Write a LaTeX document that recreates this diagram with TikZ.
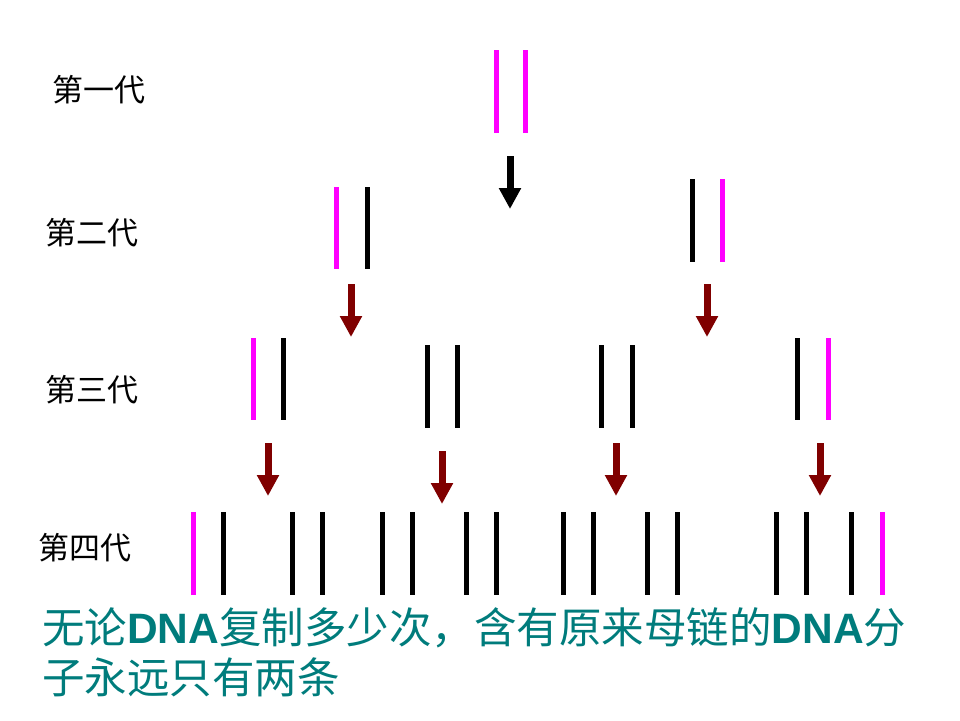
\documentclass[tikz,border=0pt]{standalone}
\usepackage{fontspec}
\usetikzlibrary{arrows.meta}
\newfontfamily\cjk{Noto Sans CJK SC}
\newfontfamily\latb{Liberation Sans}[BoldFont={Liberation Sans Bold}]
\definecolor{mag}{HTML}{FF00FF}
\definecolor{darkred}{HTML}{800000}
\definecolor{teal2}{HTML}{007C7C}
\tikzset{
  strandm/.style={line width=5pt, mag},
  strandk/.style={line width=5pt, black},
  genarrow/.style={line width=7pt, -{Triangle[width=21pt,length=21pt]}},
  genlabel/.style={anchor=west, inner sep=0pt, font=\cjk\fontsize{31}{31}\selectfont},
}
\begin{document}
\begin{tikzpicture}[x=1pt,y=-1pt]
\useasboundingbox (0,0) rectangle (960,720);
% labels
\node[genlabel] (g1) at (52,90) {第一代};
\node[genlabel] (g2) at (45,233) {第二代};
\node[genlabel] (g3) at (45,390) {第三代};
\node[genlabel] (g4) at (38,548) {第四代};
% generation 1
\draw[strandm] (496,50) -- (496,133);
\draw[strandm] (525,50) -- (525,133);
% generation 2
\draw[strandm] (336,187) -- (336,269);
\draw[strandk] (367,187) -- (367,269);
\draw[strandk] (692,179) -- (692,262);
\draw[strandm] (722,179) -- (722,262);
% generation 3
\draw[strandm] (253,338) -- (253,420);
\draw[strandk] (283,338) -- (283,420);
\draw[strandk] (427,345) -- (427,428);
\draw[strandk] (457,345) -- (457,428);
\draw[strandk] (601,345) -- (601,428);
\draw[strandk] (632,345) -- (632,428);
\draw[strandk] (797,338) -- (797,420);
\draw[strandm] (828,338) -- (828,420);
% generation 4
\draw[strandm] (193,512) -- (193,595);
\foreach \x in {223,292,322,382,412,466,496,563,593,647,677,776,806,851}
  \draw[strandk] (\x,512) -- (\x,595);
\draw[strandm] (882,512) -- (882,595);
% arrows
\coordinate (a0s) at (510,156); \coordinate (a0e) at (510,209);
\draw[genarrow, black] (a0s) -- (a0e);
\coordinate (a1s) at (351,284); \coordinate (a1e) at (351,337);
\coordinate (a2s) at (707,284); \coordinate (a2e) at (707,337);
\coordinate (a3s) at (268,443); \coordinate (a3e) at (268,496);
\coordinate (a4s) at (442,451); \coordinate (a4e) at (442,504);
\coordinate (a5s) at (616,443); \coordinate (a5e) at (616,496);
\coordinate (a6s) at (820,443); \coordinate (a6e) at (820,496);
\foreach \i in {1,...,6}
  \draw[genarrow, darkred] (a\i s) -- (a\i e);
% caption
\node[anchor=north west, inner sep=0pt, align=left, text=teal2,
      font=\cjk\fontsize{42.5}{50}\selectfont] (cap) at (42,607)
  {无论{\latb\bfseries DNA}复制多少次，含有原来母链的{\latb\bfseries DNA}分\\子永远只有两条};
\end{tikzpicture}
\end{document}
